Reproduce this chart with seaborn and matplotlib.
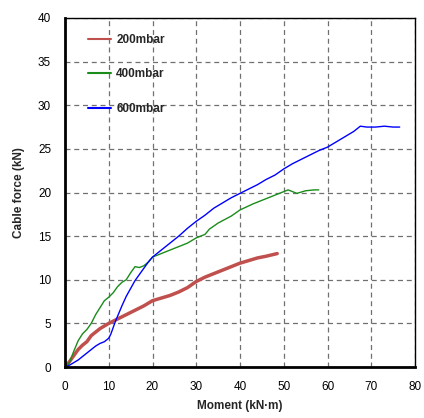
import matplotlib
matplotlib.use("Agg")
import matplotlib.pyplot as plt
import seaborn as sns
import pandas as pd

x_200 = [0, 1, 2, 3, 4, 5, 6, 7, 8, 9, 10, 12, 14, 16, 18, 20, 22, 24, 26, 28,
         30, 32, 34, 36, 38, 40, 42, 44, 46, 48.5]
y_200 = [0, 0.6, 1.3, 2.0, 2.5, 2.9, 3.6, 4.0, 4.4, 4.7, 5.0, 5.5, 6.0, 6.5, 7.0,
         7.6, 7.9, 8.2, 8.6, 9.1, 9.8, 10.3, 10.7, 11.1, 11.5, 11.9, 12.2, 12.5, 12.7, 13.0]

x_400 = [0, 1, 2, 3, 4, 5, 6, 7, 8, 9, 10, 11, 12, 13, 14, 15, 16, 17, 18, 19, 20,
         22, 25, 28, 30, 32, 33, 35, 38, 40, 43, 46, 48, 50, 51, 53, 55, 57, 58]
y_400 = [0, 0.5, 1.8, 3.0, 3.8, 4.3, 5.0, 6.0, 6.8, 7.6, 8.0, 8.5, 9.2, 9.7, 10.0,
         10.8, 11.5, 11.4, 11.6, 12.0, 12.6, 13.0, 13.6, 14.2, 14.8, 15.2, 15.8, 16.5,
         17.3, 18.0, 18.7, 19.3, 19.7, 20.1, 20.3, 19.9, 20.2, 20.3, 20.3]

x_600 = [0, 1, 2, 3, 4, 5, 6, 7, 8, 9, 10, 10.5, 11, 11.5, 12, 13, 14, 15, 16, 17,
         18, 19, 20, 22, 24, 26, 28, 30, 32, 34, 36, 38, 40, 42, 44, 46, 48, 50, 52,
         54, 56, 58, 60, 62, 64, 66, 67.5, 69, 71, 73, 75, 76.5]
y_600 = [0, 0.2, 0.5, 0.8, 1.2, 1.6, 2.0, 2.4, 2.7, 2.9, 3.3, 3.8, 4.5, 5.2, 5.8,
         7.0, 8.1, 9.0, 9.9, 10.6, 11.3, 12.0, 12.6, 13.4, 14.2, 15.0, 15.9, 16.7,
         17.4, 18.2, 18.8, 19.4, 19.9, 20.4, 20.9, 21.5, 22.0, 22.7, 23.3, 23.8, 24.3,
         24.8, 25.2, 25.8, 26.4, 27.0, 27.6, 27.5, 27.5, 27.6, 27.5, 27.5]

labels = ["200mbar", "400mbar", "600mbar"]
colors = ["#c0504d", "#1a8c1a", "#0000ff"]
widths = [2.5, 1.0, 1.0]
x_ticks = [0, 10, 20, 30, 40, 50, 60, 70, 80]
y_ticks = [0, 5, 10, 15, 20, 25, 30, 35, 40]

sns.set_style("white")
plt.rcParams["font.family"] = ["Liberation Sans", "DejaVu Sans"]

fig = plt.figure(figsize=(4.24, 4.18), dpi=100)
ax = fig.add_axes([65/424, 1 - 367/418, 350/424, 349/418])

series = [(x_200, y_200), (x_400, y_400), (x_600, y_600)]
for (xs, ys), lab, c, w in zip(series, labels, colors, widths):
    df = pd.DataFrame({"x": xs, "y": ys})
    sns.lineplot(data=df, x="x", y="y", ax=ax, color=c, linewidth=w,
                 label=lab, sort=False, estimator=None)

ax.set_xlim(0, 80)
ax.set_ylim(0, 40)
ax.set_xticks(x_ticks)
ax.set_yticks(y_ticks)
ax.tick_params(direction="in", length=4, width=1.2, labelsize=8.5, colors="black")
ax.tick_params(axis="x", pad=10)
ax.tick_params(axis="y", pad=10)
ax.grid(True, color="#707070", linestyle=(0, (4, 3)), linewidth=0.9)
for s in ax.spines.values():
    s.set_color("black")
    s.set_linewidth(1.0)
ax.spines["left"].set_linewidth(2)
ax.spines["bottom"].set_linewidth(2)

ax.set_xlabel("Moment (kN\u00b7m)", fontsize=8.5, fontweight="bold", labelpad=5)
ax.set_ylabel("Cable force (kN)", fontsize=8.5, fontweight="bold", labelpad=9)

leg = ax.legend(loc="upper left", bbox_to_anchor=(0.035, 0.985), frameon=False,
                prop={"weight": "bold", "size": 8.5}, handlelength=2.0,
                handletextpad=0.4, labelspacing=1.9)
for h in leg.get_lines():
    h.set_linewidth(1.5)

fig.savefig("out.png", dpi=100)
